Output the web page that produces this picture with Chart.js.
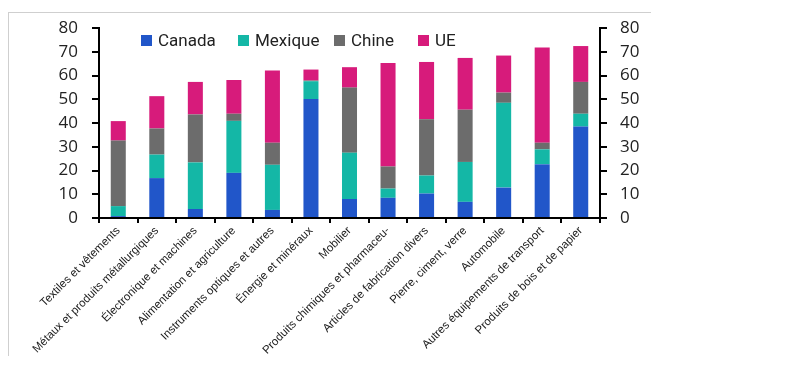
<!DOCTYPE html>
<html>
<head>
<meta charset="utf-8">
<script src="https://cdn.jsdelivr.net/npm/chart.js@4"></script>
<style>
  html, body { margin: 0; padding: 0; background: #fff; }
  #frame {
    position: absolute; left: 8px; top: 12px;
    width: 642px; height: 343px;
    border-top: 1px solid #cfcfcf; border-left: 1px solid #cfcfcf;
  }
  #chart { display: block; }
  .lg { position: absolute; top: 29px; font: 17px Roboto, sans-serif; color: #222; white-space: nowrap; line-height: 22px; }
  .lg i { display: inline-block; width: 11px; height: 11px; margin-right: 6px; vertical-align: 0px; }
</style>
</head>
<body>
<div id="frame"><canvas id="chart" width="642" height="343"></canvas></div>
<div id="legend"></div>
<script>
// categories and stacked shares (%)
const categories = [
    "Textiles et vêtements",
    "Métaux et produits métallurgiques",
    "Électronique et machines",
    "Alimentation et agriculture",
    "Instruments optiques et autres",
    "Énergie et minéraux",
    "Mobilier",
    "Produits chimiques et pharmaceu-",
    "Articles de fabrication divers",
    "Pierre, ciment, verre",
    "Automobile",
    "Autres équipements de transport",
    "Produits de bois et de papier"
];
const canada  = [0.8, 16.8, 3.8, 19.0, 3.4, 50.1, 8.0, 8.5, 10.3, 6.8, 12.8, 22.6, 38.5];
const mexique = [4.2, 9.9, 19.6, 21.9, 19.0, 7.5, 19.5, 3.9, 7.6, 16.8, 35.7, 6.3, 5.4];
const chine   = [27.6, 11.0, 20.2, 3.0, 9.3, 0.3, 27.4, 9.3, 23.7, 22.0, 4.3, 2.8, 13.4];
const ue      = [8.2, 13.6, 13.7, 14.2, 30.4, 4.6, 8.6, 43.6, 24.1, 21.8, 15.6, 40.1, 15.1];
const yTicks  = [0, 10, 20, 30, 40, 50, 60, 70, 80];

const datasets = [
    { label: "Canada",  data: canada,  backgroundColor: "#2156c9" },
    { label: "Mexique", data: mexique, backgroundColor: "#14b7a6" },
    { label: "Chine",   data: chine,   backgroundColor: "#6c6c6c" },
    { label: "UE",      data: ue,      backgroundColor: "#d71b7b" }
];

// legend drawn as html text inside the plot area
const legendX = [141, 238, 334, 418];
const legendEl = document.getElementById("legend");
datasets.forEach((ds, i) => {
    let item = document.createElement("div");
    item.className = "lg";
    item.style.left = legendX[i] + "px";
    item.innerHTML = `<i style="background:${ds.backgroundColor}"></i>${ds.label}`;
    legendEl.appendChild(item);
});

const tickFont = { family: "'Open Sans'", size: 17 };

function yAxis(pos) {
    return {
        type: "linear",
        position: pos,
        stacked: pos === "left",
        min: 0, max: 80,
        afterBuildTicks: s => { s.ticks = yTicks.map(v => ({ value: v })); },
        afterFit: s => {
            s.width = pos === "left" ? 90 : 51;
            s.paddingTop = 15;
            s.paddingBottom = 0;
        },
        border: { color: "#000", width: 2 },
        grid: { drawOnChartArea: false, color: "#000", lineWidth: 2, tickLength: 7 },
        ticks: { color: "#222", font: tickFont, padding: pos === "left" ? 14 : 13, autoSkip: false, stepSize: 10 }
    };
}

new Chart(document.getElementById("chart"), {
    type: "bar",
    data: { labels: categories, datasets: datasets },
    options: {
        responsive: false,
        animation: false,
        layout: { padding: 0 },
        datasets: { bar: { categoryPercentage: 1, barPercentage: 0.39, borderWidth: 0 } },
        plugins: {
            legend: { display: false },
            tooltip: { enabled: false }
        },
        scales: {
            x: {
                stacked: true,
                afterFit: s => { s.height = 138; },
                border: { color: "#000", width: 2 },
                grid: { drawOnChartArea: false, offset: true, color: "#000", lineWidth: 2, tickLength: 5 },
                ticks: {
                    autoSkip: false, maxRotation: 45, minRotation: 45,
                    color: "#1a1a1a", padding: 1,
                    font: { family: "'Liberation Sans'", size: 11.5 }
                }
            },
            y: yAxis("left"),
            y2: yAxis("right")
        }
    }
});
</script>
</body>
</html>
